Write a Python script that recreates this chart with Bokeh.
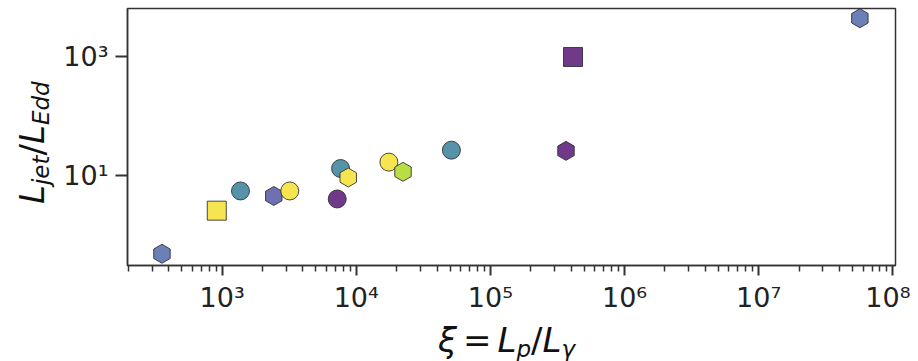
import math
from bokeh.plotting import figure
from bokeh.layouts import row, column
from bokeh.models import (FixedTicker, CustomJSTickFormatter, Range1d,
                          ColumnDataSource, Div)
from bokeh.embed import file_html
from bokeh.resources import INLINE

# ---- data ----
xi = [356, 912, 1370, 2427, 3192, 7211, 7638, 8710, 17500, 22300, 51200,
      366000, 413000, 5.68e7]
ljet = [0.476, 2.53, 5.43, 4.47, 5.43, 3.98, 12.97, 9.15, 16.6, 11.4, 26.4,
        25.7, 977, 4385]
kind = ["hex", "square", "circle", "hex", "circle", "circle", "circle", "hex",
        "circle", "hex", "circle", "hex", "square", "hex"]
group = ["bluegrey", "yellow", "teal", "indigo", "yellow", "purple", "teal",
         "yellow", "yellow", "green", "teal", "purple", "purple", "bluegrey"]
x_major = [1e3, 1e4, 1e5, 1e6, 1e7, 1e8]
y_major = [1e1, 1e3]

# ---- styles ----
palette = {"bluegrey": "#6c80b8", "yellow": "#f6e451", "teal": "#5493a8",
           "indigo": "#6f6fb3", "purple": "#71398a", "green": "#b8dd45"}
msize = {"hex": 19, "square": 19, "circle": 18}
mangle = {"hex": math.pi / 2, "square": 0.0, "circle": 0.0}

x_minor = [k * 10 ** e for e in range(2, 8) for k in range(2, 10)]

src = ColumnDataSource(dict(
    x=xi, y=ljet, marker=kind,
    color=[palette[g] for g in group],
    size=[msize[k] for k in kind],
    angle=[mangle[k] for k in kind],
))

YDIV_W = 57
p = figure(width=910 - YDIV_W, height=315, x_axis_type="log", y_axis_type="log",
           x_range=Range1d(197, 1.047e8), y_range=Range1d(0.302, 6397),
           output_backend="svg", toolbar_location=None,
           min_border_left=70, min_border_right=15, min_border_top=8,
           min_border_bottom=50)

p.scatter("x", "y", source=src, marker="marker", size="size", angle="angle",
          fill_color="color", fill_alpha=1.0, line_color="#2a2a2a",
          line_alpha=0.85, line_width=1)

p.grid.visible = False
p.background_fill_color = "white"
p.border_fill_color = "white"
p.outline_line_color = "#333333"
p.outline_line_width = 1.5

fmt = CustomJSTickFormatter(code="""
const s = {"-":"\u207b","0":"\u2070","1":"\u00b9","2":"\u00b2","3":"\u00b3",
           "4":"\u2074","5":"\u2075","6":"\u2076","7":"\u2077","8":"\u2078","9":"\u2079"};
const e = Math.round(Math.log10(tick));
return "10" + String(e).split("").map(c => s[c]).join("");
""")

p.xaxis.ticker = FixedTicker(ticks=x_major, minor_ticks=x_minor)
p.yaxis.ticker = FixedTicker(ticks=y_major, minor_ticks=[])
for ax in (p.xaxis[0], p.yaxis[0]):
    ax.formatter = fmt
    ax.axis_line_color = "#333333"
    ax.axis_line_width = 1.5
    ax.major_tick_in = 0
    ax.major_tick_line_color = "#333333"
    ax.major_tick_line_width = 2
    ax.minor_tick_in = 0
    ax.major_label_text_font = "DejaVu Sans"
    ax.major_label_text_font_size = "27px"
    ax.major_label_text_color = "#222222"
p.xaxis.major_tick_out = 10
p.xaxis.minor_tick_out = 6
p.xaxis.minor_tick_line_color = "#333333"
p.xaxis.minor_tick_line_width = 1.5
p.xaxis.major_label_standoff = 6
p.yaxis.major_tick_out = 12
p.yaxis.minor_tick_line_color = None
p.yaxis.major_label_standoff = 7

# ---- axis titles as real HTML text with sub-scripts ----
FONT = "font-family:'DejaVu Sans'; font-size:34px; color:#111111; line-height:normal;"
SUB = "font-size:23px; vertical-align:-5px;"

ytitle = (
    f"<div style=\"{FONT} white-space:nowrap; width:max-content; "
    "transform-origin:0 0; transform:translate(12px, 204px) rotate(-90deg);\">"
    f"<i>L</i><sub style=\"{SUB}\"><i>jet</i></sub>/"
    f"<i>L</i><sub style=\"{SUB}\"><i>Edd</i></sub></div>"
)
xtitle = (
    f"<div style=\"{FONT} white-space:nowrap; padding-left:438px; padding-top:5px;\">"
    "<i>\u03be</i><span style=\"margin:0 6px;\">=</span>"
    f"<i>L</i><sub style=\"{SUB}\"><i>p</i></sub>/"
    f"<i>L</i><sub style=\"{SUB}\"><i>\u03b3</i></sub></div>"
)

ydiv = Div(text=ytitle, width=YDIV_W, height=315, margin=0,
           styles={"overflow": "visible"})
xdiv = Div(text=xtitle, width=910, height=46, margin=0,
           styles={"overflow": "visible"})

layout = column(row(ydiv, p, spacing=0), xdiv, spacing=0)

open("out.html", "w").write(file_html(layout, INLINE))
